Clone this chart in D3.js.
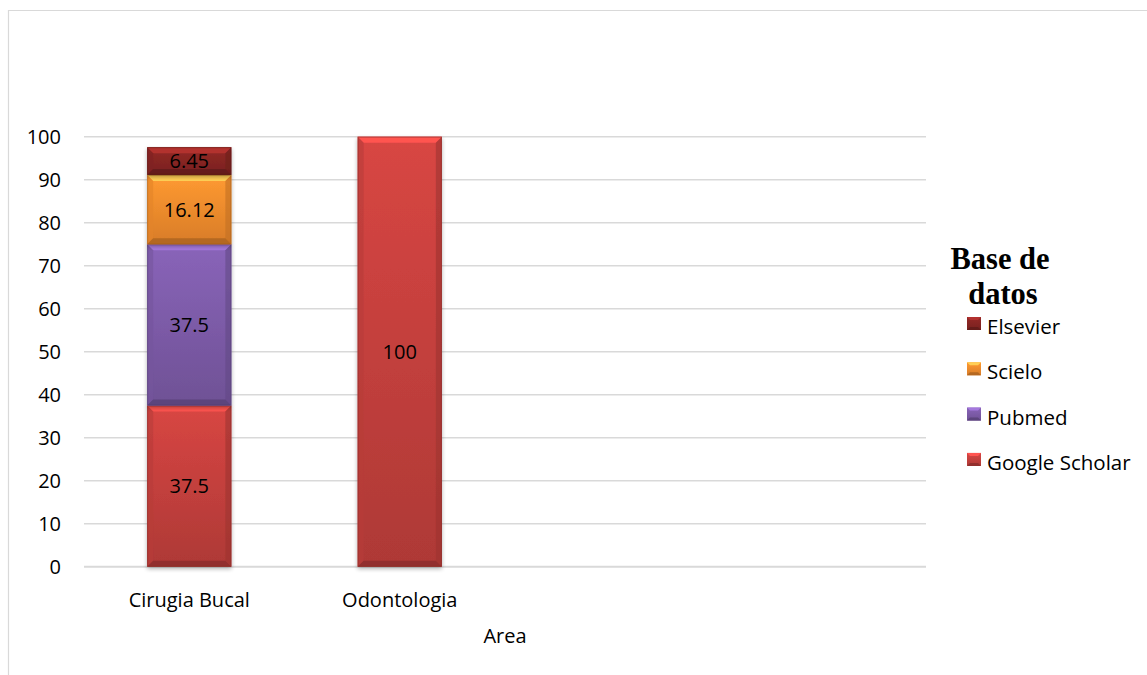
<!DOCTYPE html>
<html>
<head>
<meta charset="utf-8">
<script src="https://cdn.jsdelivr.net/npm/d3@7"></script>
<style>
  html, body { margin: 0; padding: 0; background: #fff; }
  svg { display: block; }
  text { font-family: "Open Sans", "DejaVu Sans", sans-serif; fill: #000; }
</style>
</head>
<body>
<svg id="chart" width="1147" height="675"></svg>
<script>
// ---- data ----
const categories = ["Cirugia Bucal", "Odontologia", "", ""];
const seriesNames = ["Google Scholar", "Pubmed", "Scielo", "Elsevier"];
const googleScholar = [37.5, 100, 0, 0];
const pubmed = [37.5, 0, 0, 0];
const scielo = [16.12, 0, 0, 0];
const elsevier = [6.45, 0, 0, 0];
const yTicks = [0, 10, 20, 30, 40, 50, 60, 70, 80, 90, 100];
const legendTitle = ["Base de", "datos"];
const xTitle = "Area";

const seriesValues = [googleScholar, pubmed, scielo, elsevier];
const seriesColors = ["#c23f3c", "#7b5aa6", "#f08a2c", "#862523"];

// ---- layout ----
const svg = d3.select("#chart");
const plot = { left: 84, right: 926, top: 136.7, bottom: 566.7 };
const fontSize = 20;

// frame border (left and top edges visible)
svg.append("path")
  .attr("d", "M8.5,675 L8.5,10.5 L1147,10.5")
  .attr("fill", "none").attr("stroke", "#d9d9d9").attr("stroke-width", 1.2);

const rows = categories.map((c, i) => {
  const r = { idx: i, cat: c };
  seriesNames.forEach((s, j) => r[s] = seriesValues[j][i]);
  return r;
});

const x = d3.scaleBand().domain(d3.range(categories.length))
  .range([plot.left, plot.right]).paddingInner(0.6).paddingOuter(0.3);
const y = d3.scaleLinear().domain([0, 100]).range([plot.bottom, plot.top]);

// gridlines
svg.append("g").selectAll("line").data(yTicks).join("line")
  .attr("x1", plot.left).attr("x2", plot.right)
  .attr("y1", d => y(d)).attr("y2", d => y(d))
  .attr("stroke", "#d9d9d9").attr("stroke-width", d => d === 0 ? 2 : 1.5);

// y axis labels
const yAxis = d3.axisLeft(y).tickValues(yTicks).tickSize(0).tickPadding(0);
const gy = svg.append("g").attr("transform", `translate(61,0)`).call(yAxis);
gy.select(".domain").remove();
gy.selectAll("text").style("font-size", fontSize + "px")
  .style("font-family", '"Open Sans", sans-serif').attr("fill", "#000").attr("dy", "0.35em");

// x axis labels
const xAxis = d3.axisBottom(x).tickFormat(i => categories[i]).tickSize(0).tickPadding(0);
const gx = svg.append("g").attr("transform", `translate(0,${plot.bottom})`).call(xAxis);
gx.select(".domain").remove();
gx.selectAll("text").style("font-size", fontSize + "px")
  .style("font-family", '"Open Sans", sans-serif').attr("fill", "#000").attr("dy", null).attr("y", 40);

// x title
svg.append("text").attr("x", (plot.left + plot.right) / 2).attr("y", 643)
  .attr("text-anchor", "middle").style("font-size", fontSize + "px").text(xTitle);

// defs: gradients and shadow
const defs = svg.append("defs");
seriesColors.forEach((c, j) => {
  const g = defs.append("linearGradient").attr("id", "grad" + j)
    .attr("x1", 0).attr("y1", 0).attr("x2", 0).attr("y2", 1);
  g.append("stop").attr("offset", "0%").attr("stop-color", d3.color(c).brighter(0.3));
  g.append("stop").attr("offset", "100%").attr("stop-color", d3.color(c).darker(0.3));
});
const sh = defs.append("filter").attr("id", "shadow").attr("x", "-10%").attr("y", "-10%")
  .attr("width", "120%").attr("height", "130%");
sh.append("feGaussianBlur").attr("in", "SourceAlpha").attr("stdDeviation", 2);
sh.append("feOffset").attr("dx", 0).attr("dy", 2).attr("result", "b");
sh.append("feComponentTransfer").append("feFuncA").attr("type", "linear").attr("slope", 0.3);
const mg = sh.append("feMerge");
mg.append("feMergeNode");
mg.append("feMergeNode").attr("in", "SourceGraphic");

// stacked bars
const stack = d3.stack().keys(seriesNames)(rows);
const bars = svg.append("g");
const labels = svg.append("g");
stack.forEach((layer, j) => {
  const base = d3.color(seriesColors[j]);
  layer.forEach((d, i) => {
    const v = seriesValues[j][i];
    if (!(v > 0)) return;
    const x0 = x(i), w = x.bandwidth();
    const y0 = y(d[1]), h = y(d[0]) - y(d[1]);
    const b = Math.min(6, h / 3);
    const g = bars.append("g").attr("filter", "url(#shadow)");
    g.append("rect").attr("x", x0).attr("y", y0).attr("width", w).attr("height", h)
      .attr("fill", `url(#grad${j})`);
    // top bevel
    g.append("polygon").attr("points",
      `${x0},${y0} ${x0 + w},${y0} ${x0 + w - b},${y0 + b} ${x0 + b},${y0 + b}`)
      .attr("fill", j === 2 ? "#ffcf55" : base.brighter(0.8));
    // left bevel
    g.append("polygon").attr("points",
      `${x0},${y0} ${x0 + b},${y0 + b} ${x0 + b},${y0 + h - b} ${x0},${y0 + h}`)
      .attr("fill", base.darker(0.15)).attr("opacity", 0.6);
    // right bevel
    g.append("polygon").attr("points",
      `${x0 + w},${y0} ${x0 + w - b},${y0 + b} ${x0 + w - b},${y0 + h - b} ${x0 + w},${y0 + h}`)
      .attr("fill", base.darker(0.6)).attr("opacity", 0.6);
    // bottom bevel
    g.append("polygon").attr("points",
      `${x0},${y0 + h} ${x0 + b},${y0 + h - b} ${x0 + w - b},${y0 + h - b} ${x0 + w},${y0 + h}`)
      .attr("fill", base.darker(0.8));
    g.append("rect").attr("x", x0 + 0.5).attr("y", y0 + 0.5).attr("width", w - 1).attr("height", h - 1)
      .attr("fill", "none").attr("stroke", base.darker(1)).attr("stroke-opacity", 0.5);
    // data label
    labels.append("text").attr("x", x0 + w / 2).attr("y", y0 + h / 2)
      .attr("dy", "0.36em").attr("text-anchor", "middle")
      .style("font-size", fontSize + "px").text(v);
  });
});

// legend
const lg = svg.append("g");
const title = lg.append("text").attr("text-anchor", "middle")
  .style("font-family", '"Liberation Serif", "Times New Roman", serif')
  .style("font-weight", "bold").style("font-size", "30.5px");
title.selectAll("tspan").data(legendTitle).join("tspan")
  .attr("x", (d, i) => i === 0 ? 1000 : 1003).attr("y", (d, i) => 269 + i * 34.5).text(d => d);

const legendOrder = [3, 2, 1, 0];
legendOrder.forEach((j, k) => {
  const by = 334 + k * 45.3;
  const base = d3.color(seriesColors[j]);
  const mx = 967, my = by - 17, mw = 14, mh = 13, b = 3;
  const g = lg.append("g");
  g.append("rect").attr("x", mx).attr("y", my).attr("width", mw).attr("height", mh)
    .attr("fill", `url(#grad${j})`);
  g.append("polygon").attr("points",
    `${mx},${my} ${mx + mw},${my} ${mx + mw - b},${my + b} ${mx + b},${my + b}`)
    .attr("fill", j === 2 ? "#ffcf55" : base.brighter(0.8));
  g.append("polygon").attr("points",
    `${mx},${my + mh} ${mx + b},${my + mh - b} ${mx + mw - b},${my + mh - b} ${mx + mw},${my + mh}`)
    .attr("fill", base.darker(0.8));
  lg.append("text").attr("x", 987).attr("y", by)
    .style("font-size", "20.5px").text(seriesNames[j]);
});
</script>
</body>
</html>
